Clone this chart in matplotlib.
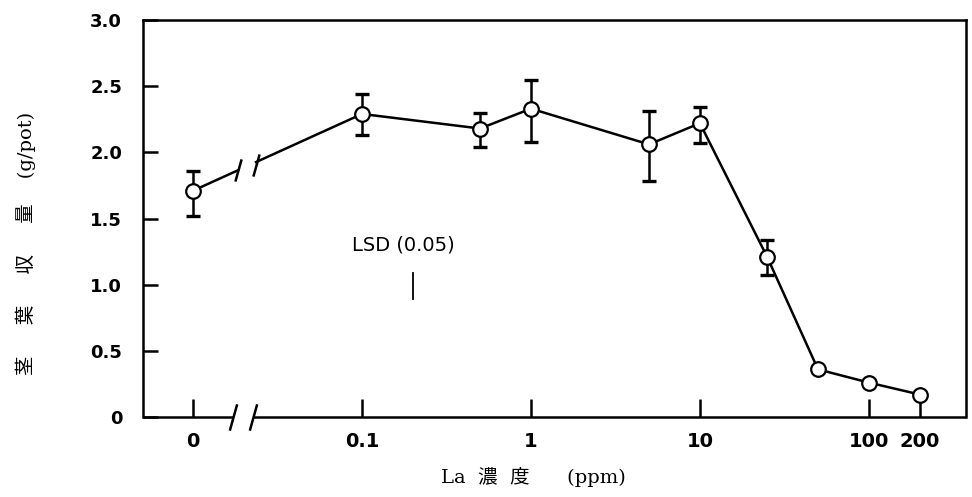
import numpy as np
import matplotlib
matplotlib.use("Agg")
import matplotlib.pyplot as plt

# ---- data ----
conc = [0, 0.1, 0.5, 1, 5, 10, 25, 50, 100, 200]
yield_mean = [1.71, 2.29, 2.18, 2.33, 2.06, 2.22, 1.21, 0.36, 0.26, 0.17]
err_low = [0.19, 0.16, 0.14, 0.25, 0.28, 0.15, 0.14, 0.0, 0.0, 0.0]
err_high = [0.15, 0.15, 0.12, 0.22, 0.25, 0.12, 0.13, 0.0, 0.0, 0.0]
xtick_vals = [0, 0.1, 1, 10, 100, 200]
xtick_labels = ["0", "0.1", "1", "10", "100", "200"]
ytick_vals = [0, 0.5, 1.0, 1.5, 2.0, 2.5, 3.0]
ytick_labels = ["0", "0.5", "1.0", "1.5", "2.0", "2.5", "3.0"]
lsd_value = 0.2
lsd_label = "LSD (0.05)"
xlabel = "La  濃  度      (ppm)"
ylabel = "茎     葉     収     量    (g/pot)"

ZERO_POS = -2.0  # position of the "0" concentration on the broken log axis


def pos(c):
    c = np.asarray(c, float)
    return np.where(c > 0, np.log10(np.clip(c, 1e-12, None)), ZERO_POS)


x = pos(conc)
y = np.array(yield_mean)

fig = plt.figure(figsize=(9.72, 4.97), dpi=100)
ax = fig.add_axes([143 / 972, 1 - 417 / 497, (966 - 143) / 972, (417 - 20) / 497])

XMIN, XMAX = -2.296, 2.575
ax.set_xlim(XMIN, XMAX)
ax.set_ylim(0, 3.0)

lw = 1.8
col = "black"

# data line: broken between 0 and 0.1
brk1, brk2 = -1.734, -1.627


def interp_y(xx):
    return y[0] + (y[1] - y[0]) * (xx - x[0]) / (x[1] - x[0])


ax.plot([x[0], brk1], [y[0], interp_y(brk1)], color=col, lw=lw, zorder=2)
ax.plot([brk2] + list(x[1:]), [interp_y(brk2)] + list(y[1:]), color=col, lw=lw, zorder=2)
slash = [(-0.28, -1), (0.28, 1)]
ax.plot([brk1, brk2], [interp_y(brk1), interp_y(brk2) - 0.02], ls="none",
        marker=slash, markersize=16, mew=lw, color=col, zorder=3)

# error bars
ax.errorbar(x, y, yerr=[err_low, err_high], fmt="none", ecolor=col,
            elinewidth=lw, capsize=5, capthick=2.4, zorder=2)
ax.plot(x, y, ls="none", marker="o", markersize=10.5, mfc="white",
        mec=col, mew=1.6, zorder=4)

# LSD
lsd_x = -0.698
lsd_y = 0.99
ax.plot([lsd_x, lsd_x], [lsd_y - lsd_value / 2, lsd_y + lsd_value / 2], color=col, lw=1.3)
ax.text(-0.757, 1.30, lsd_label, ha="center", va="center", fontsize=14,
        family="DejaVu Sans", color=col)

# spines
for s in ["left", "top", "right"]:
    ax.spines[s].set_linewidth(lw)
ax.spines["bottom"].set_visible(False)
sb1, sb2 = -1.763, -1.645
ax.plot([XMIN, sb1], [0, 0], color=col, lw=lw, clip_on=False, solid_capstyle="butt")
ax.plot([sb2, XMAX], [0, 0], color=col, lw=lw, clip_on=False, solid_capstyle="butt")
ax.plot([sb1, sb2], [0, 0], ls="none", marker=slash, markersize=19, mew=lw,
        color=col, clip_on=False)

ax.set_xticks(pos(xtick_vals))
ax.set_xticklabels(xtick_labels)
ax.set_yticks(ytick_vals)
ax.set_yticklabels(ytick_labels)
ax.tick_params(axis="x", direction="in", length=13, width=lw, pad=11,
               top=False, bottom=True)
ax.tick_params(axis="y", direction="in", length=11, width=lw, pad=15,
               right=False, left=True)
for lab in ax.get_xticklabels():
    lab.set_fontfamily("DejaVu Sans")
    lab.set_fontweight("bold")
    lab.set_fontsize(14)
for lab in ax.get_yticklabels():
    lab.set_fontfamily("DejaVu Sans")
    lab.set_fontweight("bold")
    lab.set_fontsize(13)

fig.text(533 / 972, 1 - 477 / 497, xlabel, ha="center", va="center",
         fontsize=14, family=["DejaVu Serif", "Noto Sans CJK JP"])
fig.text(26 / 972, 1 - 243 / 497, ylabel, ha="center", va="center", rotation=90,
         fontsize=14, family=["DejaVu Serif", "Noto Sans CJK JP"])

fig.savefig("out.png", dpi=100)
